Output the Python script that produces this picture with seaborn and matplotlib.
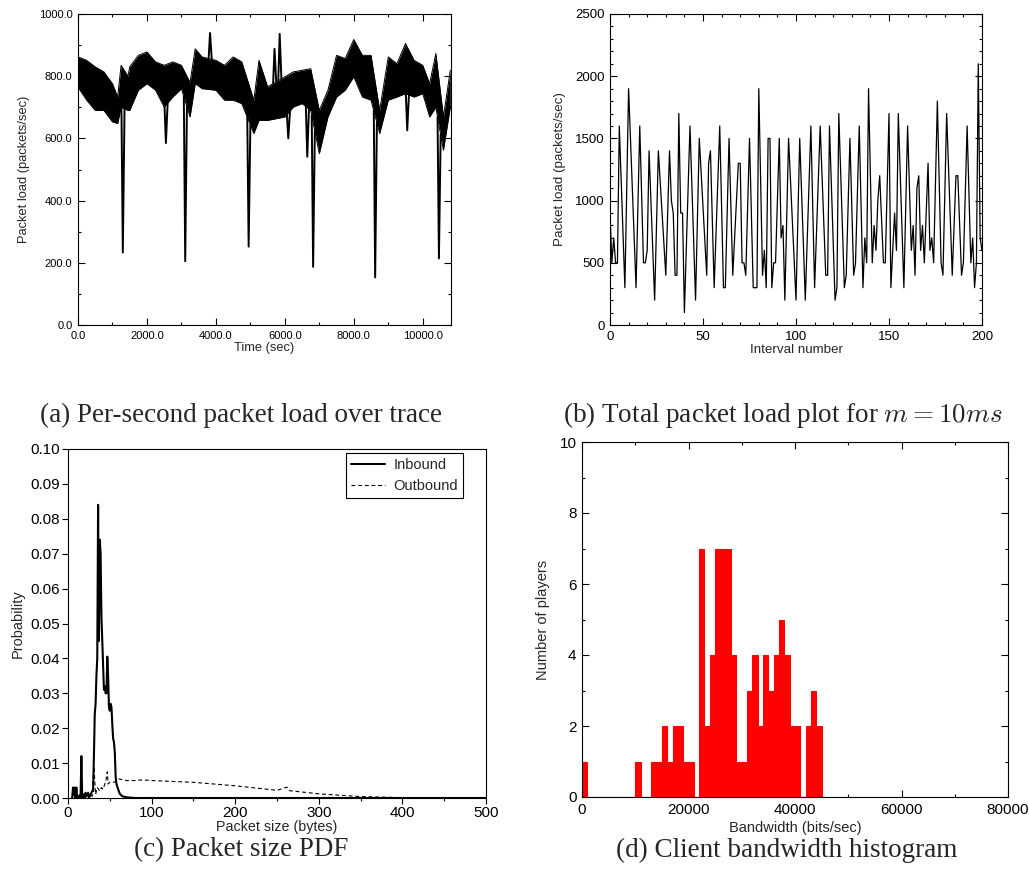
import numpy as np
import pandas as pd
import matplotlib
matplotlib.use("Agg")
import matplotlib.pyplot as plt
import seaborn as sns
from matplotlib.ticker import MultipleLocator, FormatStrFormatter

# ---------------- (a) per-second packet load (envelope readings) ----------------
trace_time = [0, 250, 500, 750, 1000, 1150, 1250, 1450, 1500, 1750, 2000, 2250, 2500,
              2750, 3000, 3250, 3400, 3600, 4000, 4250, 4500, 4750, 5100, 5250, 5500,
              6000, 6250, 6500, 6750, 7000, 7250, 7500, 7750, 8000, 8250, 8500, 8750,
              9000, 9250, 9500, 9750, 10000, 10200, 10380, 10600, 10800]
trace_high = [862, 851, 830, 814, 776, 733, 835, 800, 830, 867, 878, 846, 835,
              846, 835, 780, 888, 862, 851, 835, 862, 846, 723, 851, 766,
              798, 814, 819, 824, 690, 755, 867, 857, 918, 867, 867, 690,
              862, 840, 905, 851, 835, 776, 873, 669, 819]
trace_low = [765, 723, 690, 690, 653, 648, 700, 690, 690, 755, 776, 755, 701,
             733, 760, 669, 776, 760, 755, 723, 723, 712, 616, 658, 658,
             669, 701, 712, 690, 551, 669, 733, 755, 798, 733, 723, 616,
             723, 733, 744, 733, 744, 669, 700, 562, 701]
spike_time = [1300, 2550, 3110, 3830, 4950, 5700, 5850, 6100, 6650, 6820, 8620, 9550, 10470]
spike_load = [233, 585, 205, 939, 252, 888, 936, 600, 541, 187, 153, 626, 214]

# ---------------- (b) total packet load, m = 10 ms ----------------
interval = [0, 1, 2, 3, 4, 5, 8, 10, 14, 16, 18, 19, 20, 21, 24, 26, 30, 32, 33, 34,
            35, 36, 37, 38, 39, 40, 43, 46, 48, 52, 53, 54, 56, 59, 61, 62, 64, 66,
            69, 70, 71, 72, 73, 75, 77, 78, 79, 80, 82, 83, 84, 85, 86, 87, 88, 89,
            91, 92, 93, 94, 96, 100, 102, 105, 108, 110, 113, 116, 117, 118, 121,
            122, 123, 126, 127, 129, 131, 132, 134, 136, 137, 138, 139, 141, 142,
            143, 144, 145, 147, 148, 150, 151, 153, 154, 155, 158, 160, 162, 163,
            164, 165, 166, 167, 168, 169, 171, 172, 173, 174, 176, 178, 179, 181,
            184, 186, 187, 189, 190, 192, 194, 195, 196, 197, 198, 199, 200]
interval_load = [900, 500, 700, 500, 500, 1600, 300, 1900, 300, 1600, 500, 500, 600,
                 1400, 200, 1400, 400, 1400, 1000, 900, 400, 400, 1700, 900, 900, 100,
                 1600, 200, 1500, 400, 1300, 1400, 300, 1600, 300, 300, 1500, 400,
                 1300, 1300, 500, 500, 400, 1500, 300, 300, 300, 1900, 400, 600, 300,
                 1500, 1500, 300, 500, 500, 1500, 700, 800, 200, 1500, 200, 1500, 200,
                 1600, 300, 1600, 400, 400, 1600, 200, 300, 1700, 300, 400, 1500, 400,
                 500, 1600, 300, 700, 500, 1900, 500, 800, 600, 1000, 1200, 500, 500,
                 1700, 300, 900, 600, 1700, 300, 1600, 600, 800, 400, 1100, 1200, 600,
                 800, 500, 1300, 600, 700, 500, 1800, 500, 400, 1700, 400, 1200, 1200,
                 400, 500, 1600, 500, 700, 300, 500, 2100, 700, 600]

# ---------------- (c) packet size PDF ----------------
in_size = [5, 6, 7, 8, 9, 10, 11, 13, 15, 16, 17, 19, 20, 21, 22, 24, 25, 27, 29, 30,
           31, 32, 33, 34, 35, 36, 37, 38, 39, 40, 41, 42, 43, 44, 45, 46, 47, 48, 49,
           50, 51, 52, 53, 54, 55, 56, 57, 58, 60, 62, 65, 70, 80, 500]
in_prob = [0.0, 0.003, 0.001, 0.003, 0.0, 0.003, 0.0, 0.0005, 0.0, 0.012, 0.0, 0.001,
           0.0, 0.0015, 0.0005, 0.0015, 0.0, 0.001, 0.002, 0.002,
           0.012, 0.024, 0.027, 0.035, 0.040, 0.084, 0.045, 0.074, 0.070, 0.052, 0.045,
           0.038, 0.031, 0.032, 0.030, 0.030, 0.0405, 0.035, 0.026, 0.025, 0.027, 0.026,
           0.021, 0.017, 0.016, 0.013, 0.006, 0.004, 0.0025, 0.0012, 0.0005, 0.0002,
           0.0, 0.0]
out_size = [5, 10, 15, 20, 25, 29, 31, 33, 35, 38, 40, 42, 44, 45, 47, 48, 50, 55, 58,
            60, 70, 80, 90, 100, 150, 200, 250, 262, 265, 300, 350, 400, 450, 500]
out_prob = [0.001, 0.0005, 0.001, 0.0005, 0.001, 0.0005, 0.009, 0.001, 0.003, 0.002,
            0.003, 0.0025, 0.004, 0.0045, 0.0075, 0.004, 0.0045, 0.0045, 0.005, 0.0055,
            0.005, 0.005, 0.0052, 0.005, 0.0045, 0.0035, 0.0022, 0.0031, 0.0021, 0.0012,
            0.0004, 0.0001, 0.00005, 0.0]

# ---------------- (d) client bandwidth histogram ----------------
bin_start = list(range(0, 46000, 1000))
players = [1, 0, 0, 0, 0, 0, 0, 0, 0, 0,
           1, 0, 0, 1, 1, 2, 1, 2, 2, 1,
           1, 0, 7, 2, 4, 7, 7, 7, 4, 1,
           1, 3, 4, 2, 4, 3, 4, 5, 4, 2,
           2, 0, 2, 3, 2, 0]

captions = ["(a) Per-second packet load over trace",
            "(b) Total packet load plot for $m = 10ms$",
            "(c) Packet size PDF",
            "(d) Client bandwidth histogram"]

# ---------------------------------------------------------------
sns.set_theme(style="ticks")
plt.rcParams['font.family'] = ['Liberation Sans', 'DejaVu Sans']
plt.rcParams['mathtext.fontset'] = 'cm'
plt.rcParams['axes.linewidth'] = 0.8

W, H = 1029, 883
fig = plt.figure(figsize=(W / 100, H / 100), dpi=100)
fig.patch.set_facecolor('white')


def axes_px(l, t, r, b):
    return fig.add_axes([l / W, 1 - b / H, (r - l) / W, (b - t) / H])


def ticks_in(ax, fs):
    ax.tick_params(which='both', direction='in', top=True, right=True,
                   width=0.8, colors='black', labelsize=fs, pad=4)
    ax.tick_params(which='major', length=5)
    ax.tick_params(which='minor', length=2.5)
    for s in ax.spines.values():
        s.set_color('black')
        s.set_linewidth(0.8)


# (a)
axA = axes_px(78, 14, 451, 325)
tt = np.array(trace_time, dtype=float)
hi = np.array(trace_high, dtype=float)
lo = np.array(trace_low, dtype=float)
axA.fill_between(tt, lo, hi, color='black', linewidth=0)
sns.lineplot(x=tt, y=hi, ax=axA, color='black', linewidth=0.7, estimator=None, sort=False)
sns.lineplot(x=tt, y=lo, ax=axA, color='black', linewidth=0.7, estimator=None, sort=False)
for st, sv in zip(spike_time, spike_load):
    ref = hi if sv > np.interp(st, tt, hi) else lo
    xs = [st - 40, st, st + 50]
    ys = [np.interp(st - 40, tt, ref), sv, np.interp(st + 50, tt, ref)]
    sns.lineplot(x=xs, y=ys, ax=axA, color='black', linewidth=1.4, estimator=None, sort=False)
axA.set_xlim(0, 10820)
axA.set_ylim(0, 1000)
axA.xaxis.set_major_locator(MultipleLocator(2000))
axA.xaxis.set_minor_locator(MultipleLocator(1000))
axA.yaxis.set_major_locator(MultipleLocator(200))
axA.yaxis.set_minor_locator(MultipleLocator(100))
axA.xaxis.set_major_formatter(FormatStrFormatter('%.1f'))
axA.yaxis.set_major_formatter(FormatStrFormatter('%.1f'))
ticks_in(axA, 8)
axA.set_xlabel("Time (sec)", fontsize=9.3, labelpad=1)
axA.set_ylabel("Packet load (packets/sec)", fontsize=9.3, labelpad=6)

# (b)
axB = axes_px(610, 14, 982, 325)
sns.lineplot(x=interval, y=interval_load, ax=axB, color='black', linewidth=0.9,
             estimator=None, sort=False)
axB.set_xlim(0, 200)
axB.set_ylim(0, 2500)
axB.xaxis.set_major_locator(MultipleLocator(50))
axB.xaxis.set_minor_locator(MultipleLocator(10))
axB.yaxis.set_major_locator(MultipleLocator(500))
axB.yaxis.set_minor_locator(MultipleLocator(100))
ticks_in(axB, 9.5)
axB.set_xlabel("Interval number", fontsize=9.6, labelpad=1)
axB.set_ylabel("Packet load (packets/sec)", fontsize=9.6, labelpad=6)

# (c)
axC = axes_px(68, 449, 486, 798)
sns.lineplot(x=in_size, y=in_prob, ax=axC, color='black', linewidth=1.5,
             estimator=None, sort=False, label="Inbound")
sns.lineplot(x=out_size, y=out_prob, ax=axC, color='black', linewidth=0.8,
             estimator=None, sort=False, label="Outbound")
axC.lines[1].set_linestyle((0, (3.5, 2.5)))
axC.set_xlim(0, 500)
axC.set_ylim(0, 0.1)
axC.xaxis.set_major_locator(MultipleLocator(100))
axC.xaxis.set_minor_locator(MultipleLocator(50))
axC.yaxis.set_major_locator(MultipleLocator(0.01))
axC.yaxis.set_major_formatter(FormatStrFormatter('%.2f'))
axC.tick_params(which='both', direction='out', top=False, right=False,
                width=0.8, colors='black', labelsize=11, pad=2)
axC.tick_params(which='major', length=4)
axC.tick_params(which='minor', length=2.5)
for s in axC.spines.values():
    s.set_color('black')
    s.set_linewidth(0.8)
axC.set_xlabel("Packet size (bytes)", fontsize=10.3, labelpad=0)
axC.set_ylabel("Probability", fontsize=10.5, labelpad=4)
leg = axC.legend(loc='upper right', bbox_to_anchor=(0.945, 0.9885), borderaxespad=0,
                 fancybox=False, edgecolor='black', framealpha=1, fontsize=10.5,
                 handlelength=2.3, handletextpad=0.6, borderpad=0.35, labelspacing=0.45)
leg.get_frame().set_linewidth(0.8)

# (d)
axD = axes_px(582, 442, 1008, 797)
centers = [b + 500 for b in bin_start]
edges = bin_start + [bin_start[-1] + 1000]
sns.histplot(x=centers, weights=players, bins=edges, ax=axD, color='#ff0000',
             alpha=1, edgecolor='#ff0000', linewidth=0.8, element='bars')
axD.set_xlim(0, 80000)
axD.set_ylim(0, 10)
axD.xaxis.set_major_locator(MultipleLocator(20000))
axD.xaxis.set_minor_locator(MultipleLocator(10000))
axD.yaxis.set_major_locator(MultipleLocator(2))
axD.yaxis.set_minor_locator(MultipleLocator(1))
ticks_in(axD, 11)
axD.set_xlabel("Bandwidth (bits/sec)", fontsize=10.5, labelpad=3)
axD.set_ylabel("Number of players", fontsize=10.5, labelpad=7)

# captions
cap_kw = dict(family=['Liberation Serif', 'DejaVu Serif'], fontsize=19.5,
              ha='center', va='center')
fig.text(241 / W, 1 - 415 / H, captions[0], **cap_kw)
fig.text(783 / W, 1 - 415 / H, captions[1], **cap_kw)
fig.text(241 / W, 1 - 850 / H, captions[2], **cap_kw)
fig.text(787 / W, 1 - 850 / H, captions[3], **cap_kw)

fig.savefig("out.png", dpi=100, facecolor='white')
